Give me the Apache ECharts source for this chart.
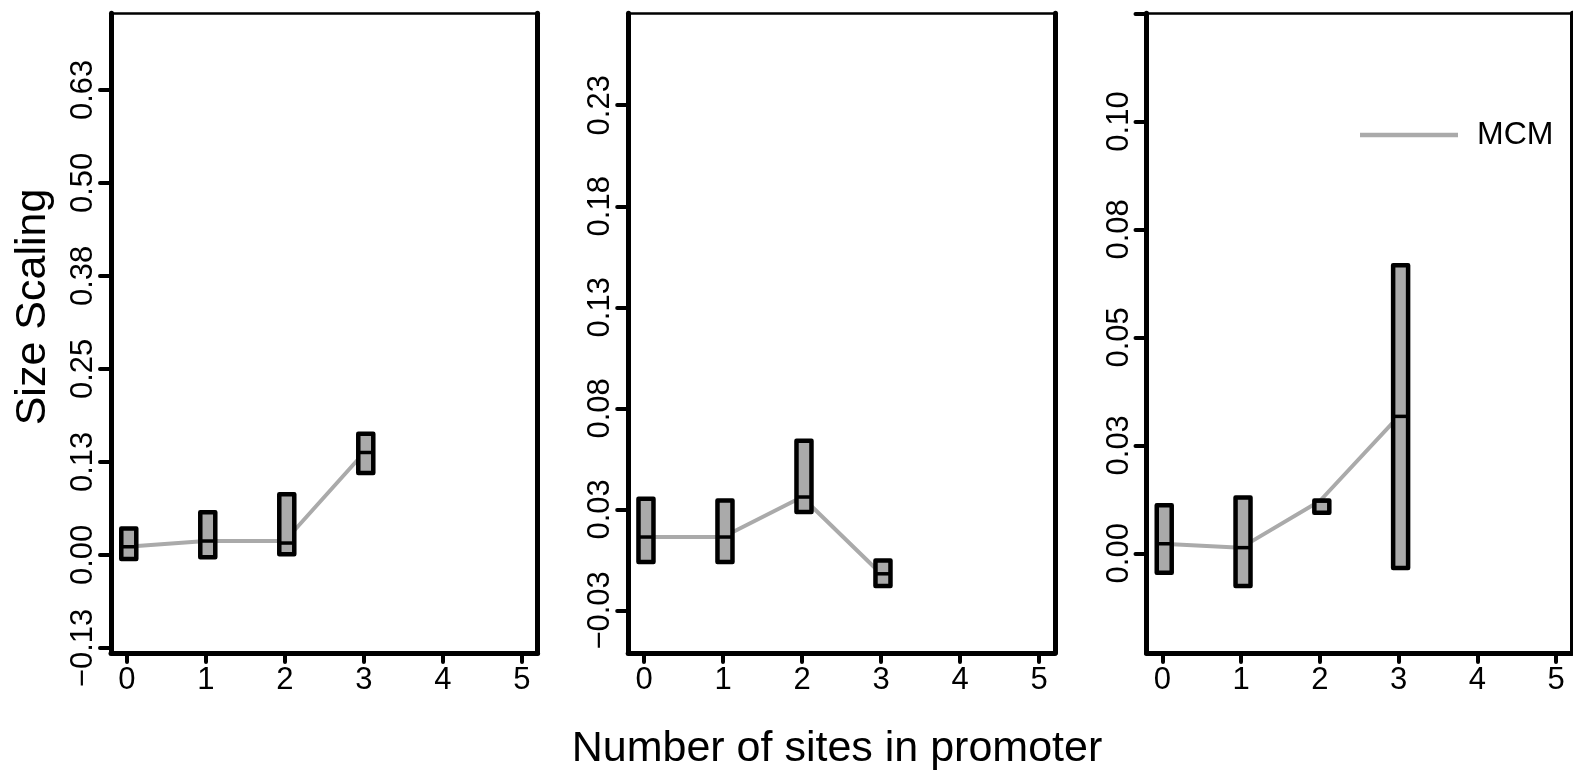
<!DOCTYPE html>
<html>
<head>
<meta charset="utf-8">
<script src="https://cdn.jsdelivr.net/npm/echarts@6/dist/echarts.min.js"></script>
<style>
  html, body { margin: 0; padding: 0; background: #fff; }
  #chart { width: 1573px; height: 778px; }
</style>
</head>
<body>
<div id="chart"></div>
<script>
// Number of binding sites in the promoter (x positions)
const sites = [0, 1, 2, 3];
const xTicks = [0, 1, 2, 3, 4, 5];

// Panel 1
const q1A  = [-0.0055, -0.0032, 0.0008, 0.110];
const medA = [0.011, 0.0187, 0.016, 0.1377];
const q3A  = [0.0357, 0.0573, 0.0815, 0.163];
const mcmA = [0.011, 0.0187, 0.0187, 0.137];
const yTicksA = [-0.125, 0, 0.125, 0.25, 0.375, 0.5, 0.625];
const yLabelsA = ['\u22120.13', '0.00', '0.13', '0.25', '0.38', '0.50', '0.63'];

// Panel 2
const q1B  = [-0.0011, -0.0011, 0.0237, -0.013];
const medB = [0.0113, 0.0113, 0.0311, -0.0069];
const q3B  = [0.0302, 0.0294, 0.059, -0.0003];
const mcmB = [0.0113, 0.0113, 0.0311, -0.0069];
const yTicksB = [-0.025, 0.025, 0.075, 0.125, 0.175, 0.225];
const yLabelsB = ['\u22120.03', '0.03', '0.08', '0.13', '0.18', '0.23'];

// Panel 3
const q1C  = [-0.0045, -0.0076, 0.0094, -0.0034];
const medC = [0.0022, 0.0013, 0.0121, 0.0317];
const q3C  = [0.0111, 0.0129, 0.0122, 0.0667];
const mcmC = [0.0022, 0.0013, 0.0121, 0.0317];
const yTicksC = [0, 0.025, 0.05, 0.075, 0.1, 0.125];
const yLabelsC = ['0.00', '0.03', '0.05', '0.08', '0.10'];

const FONT = "'Liberation Sans', Arial, sans-serif";
const BOX_HALF = 0.095;
const BOX_SHIFT = 0.025;
const GREY = '#AAAAAA';

const panels = [
  { q1: q1A, med: medA, q3: q3A, mcm: mcmA, ticks: yTicksA, labels: yLabelsA,
    ymin: -0.1318, ymax: 0.728, left: 111, width: 426.6 },
  { q1: q1B, med: medB, q3: q3B, mcm: mcmB, ticks: yTicksB, labels: yLabelsB,
    ymin: -0.0461, ymax: 0.2705, left: 628.2, width: 426.6 },
  { q1: q1C, med: medC, q3: q3C, mcm: mcmC, ticks: yTicksC, labels: yLabelsC,
    ymin: -0.0231, ymax: 0.12505, left: 1146.5, width: 425.5 }
];

const grid = [], xAxis = [], yAxis = [], series = [];

panels.forEach((p, i) => {
  grid.push({ left: p.left, top: 13.3, width: p.width, height: 639.7 });

  // bottom axis with ticks
  xAxis.push({
    type: 'value', gridIndex: i, min: -0.2, max: 5.2, position: 'bottom',
    axisLine: { show: true, onZero: false, lineStyle: { color: '#000', width: 5 } },
    axisTick: { show: true, customValues: xTicks, length: 9, lineStyle: { color: '#000', width: 4, cap: 'round' } },
    axisLabel: { show: true, customValues: xTicks, margin: 12, fontSize: 31, color: '#000', fontFamily: FONT },
    splitLine: { show: false }
  });
  // top edge of the frame
  xAxis.push({
    type: 'value', gridIndex: i, min: -0.2, max: 5.2, position: 'top',
    axisLine: { show: true, onZero: false, lineStyle: { color: '#000', width: 2.5 } },
    axisTick: { show: false }, axisLabel: { show: false }, splitLine: { show: false }
  });

  const lbl = {};
  p.labels.forEach((t, k) => { lbl[p.ticks[k].toFixed(4)] = t; });
  yAxis.push({
    type: 'value', gridIndex: i, min: p.ymin, max: p.ymax, position: 'left',
    axisLine: { show: true, onZero: false, lineStyle: { color: '#000', width: 5 } },
    axisTick: { show: true, customValues: p.ticks, length: 11, lineStyle: { color: '#000', width: 4, cap: 'round' } },
    axisLabel: {
      show: true, customValues: p.ticks.slice(0, p.labels.length), rotate: 90, margin: 12,
      fontSize: 31, color: '#000', fontFamily: FONT,
      formatter: v => lbl[Number(v).toFixed(4)] || ''
    },
    splitLine: { show: false }
  });
  // right edge of the frame
  yAxis.push({
    type: 'value', gridIndex: i, min: p.ymin, max: p.ymax, position: 'right',
    axisLine: { show: true, onZero: false, lineStyle: { color: '#000', width: 5 } },
    axisTick: { show: false }, axisLabel: { show: false }, splitLine: { show: false }
  });

  series.push({
    name: 'MCM', type: 'line', xAxisIndex: 2 * i, yAxisIndex: 2 * i,
    data: sites.map((s, k) => [s, p.mcm[k]]),
    symbol: 'none', silent: true, z: 2,
    lineStyle: { color: GREY, width: 4 },
    itemStyle: { color: GREY }
  });

  series.push({
    name: 'box' + i, type: 'custom', xAxisIndex: 2 * i, yAxisIndex: 2 * i, z: 3, silent: true,
    data: sites.map((s, k) => [s, p.q1[k], p.med[k], p.q3[k]]),
    encode: { x: 0, y: [1, 2, 3] },
    renderItem: (params, api) => {
      const x = api.value(0) + BOX_SHIFT;
      const a = api.coord([x - BOX_HALF, api.value(3)]);
      const b = api.coord([x + BOX_HALF, api.value(1)]);
      const m1 = api.coord([x - BOX_HALF, api.value(2)]);
      const m2 = api.coord([x + BOX_HALF, api.value(2)]);
      return {
        type: 'group',
        children: [
          { type: 'rect', shape: { x: a[0], y: a[1], width: b[0] - a[0], height: b[1] - a[1] },
            style: { fill: GREY, stroke: '#000', lineWidth: 4.5, lineJoin: 'round' } },
          { type: 'line', shape: { x1: m1[0], y1: m1[1], x2: m2[0], y2: m2[1] },
            style: { stroke: '#000', lineWidth: 3.5 } }
        ]
      };
    }
  });
});

const chart = echarts.init(document.getElementById('chart'), null, { renderer: 'canvas' });
chart.setOption({
  animation: false,
  backgroundColor: '#fff',
  grid, xAxis, yAxis, series,
  legend: {
    data: [{ name: 'MCM', icon: 'rect' }], left: 1355, top: 114, itemWidth: 98, itemHeight: 4.5,
    selectedMode: false, itemStyle: { color: GREY },
    textStyle: { fontSize: 32, color: '#000', fontFamily: FONT, padding: [0, 0, 6, 14] }
  },
  graphic: [
    { type: 'text', x: 33, y: 307, rotation: Math.PI / 2,
      style: { text: 'Size Scaling', fontSize: 43, fontFamily: FONT, fill: '#000', align: 'center', verticalAlign: 'middle' } },
    { type: 'text', x: 837, y: 749,
      style: { text: 'Number of sites in promoter', fontSize: 43, fontFamily: FONT, fill: '#000', align: 'center', verticalAlign: 'middle' } }
  ]
});
</script>
</body>
</html>
